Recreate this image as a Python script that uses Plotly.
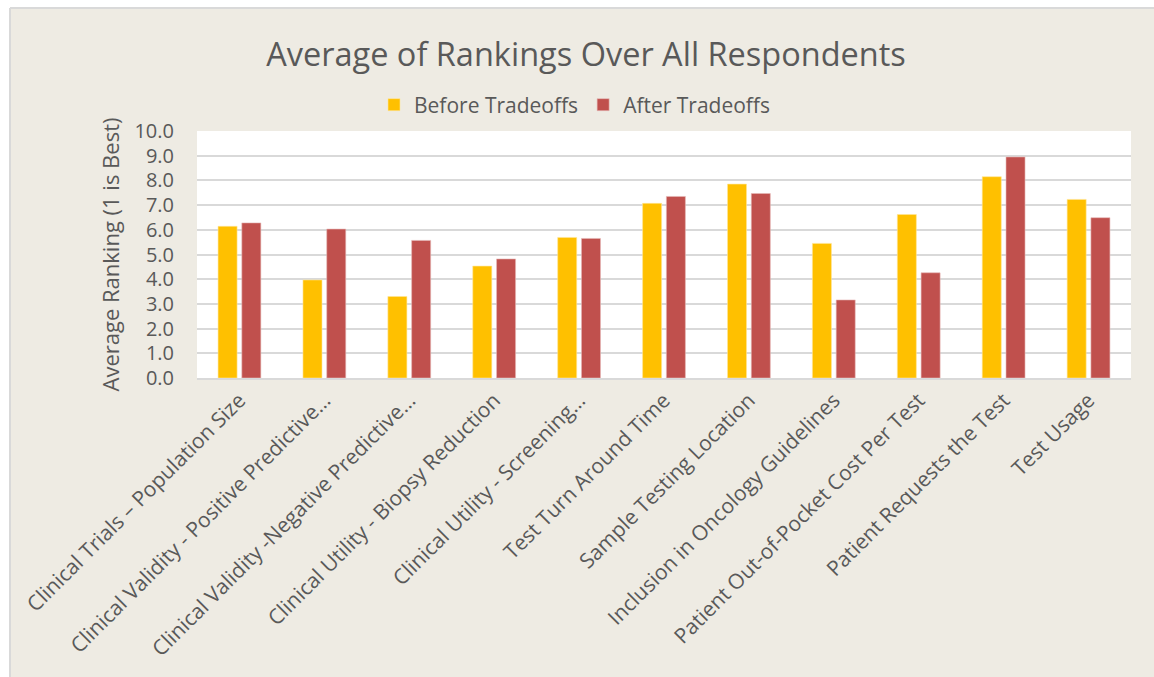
import plotly.graph_objects as go

categories = [
    "Clinical Trials – Population Size",
    "Clinical Validity - Positive Predictive…",
    "Clinical Validity -Negative Predictive…",
    "Clinical Utility - Biopsy Reduction",
    "Clinical Utility - Screening…",
    "Test Turn Around Time",
    "Sample Testing Location",
    "Inclusion in Oncology Guidelines",
    "Patient Out-of-Pocket Cost Per Test",
    "Patient Requests the Test",
    "Test Usage",
]
before = [6.14, 3.97, 3.30, 4.53, 5.69, 7.07, 7.85, 5.45, 6.62, 8.15, 7.23]
after = [6.28, 6.03, 5.57, 4.82, 5.65, 7.35, 7.47, 3.16, 4.26, 8.95, 6.49]
y_ticks = [0, 1, 2, 3, 4, 5, 6, 7, 8, 9, 10]

FONT = "Open Sans"
TXT = "#595959"
BG = "#EEEBE3"

fig = go.Figure()
fig.add_trace(go.Bar(x=categories, y=before, name="Before Tradeoffs",
                     marker=dict(color="#FFC000", line=dict(color="#FFE699", width=0.6))))
fig.add_trace(go.Bar(x=categories, y=after, name="After Tradeoffs",
                     marker=dict(color="#C0504D", line=dict(color="#E6B8B7", width=0.6))))

W, H = 1154, 677
L = 197
T = 131
bottom = 378
right = 1131
R = W - right
B = H - bottom
pw, ph = W - L - R, H - T - B


def px_x(x):
    return (x - L) / pw


def px_y(y):
    return (bottom - y) / ph


bx, by = 10, 8  # chart-area border position in pixels
shapes = [
    dict(type="rect", xref="paper", yref="paper", layer="below",
         x0=px_x(-5), x1=px_x(bx), y0=px_y(H + 5), y1=px_y(-5),
         fillcolor="white", line=dict(width=0)),
    dict(type="rect", xref="paper", yref="paper", layer="below",
         x0=px_x(-5), x1=px_x(W + 5), y0=px_y(by), y1=px_y(-5),
         fillcolor="white", line=dict(width=0)),
    dict(type="line", xref="paper", yref="paper", layer="below",
         x0=px_x(bx), x1=px_x(bx), y0=px_y(H + 5), y1=px_y(by),
         line=dict(color="#D9D9D9", width=2)),
    dict(type="line", xref="paper", yref="paper", layer="below",
         x0=px_x(bx), x1=px_x(W + 5), y0=px_y(by), y1=px_y(by),
         line=dict(color="#D9D9D9", width=2)),
]

fig.update_layout(
    width=W, height=H,
    margin=dict(l=L, r=R, t=T, b=B, autoexpand=False),
    paper_bgcolor=BG,
    plot_bgcolor="white",
    barmode="group",
    bargap=0.44,
    bargroupgap=0.2,
    font=dict(family=FONT, color=TXT, size=21),
    title=dict(text="Average of Rankings Over All Respondents",
               x=586 / W, xanchor="center", y=1 - 55 / H, yanchor="middle",
               font=dict(size=32.5, color=TXT, family=FONT)),
    legend=dict(orientation="h", x=px_x(575), xanchor="center",
                y=px_y(105), yanchor="middle",
                font=dict(size=21, color=TXT), bgcolor="rgba(0,0,0,0)",
                itemwidth=30, traceorder="normal"),
    showlegend=True,
    shapes=shapes,
)

fig.update_xaxes(tickangle=-45, tickfont=dict(size=21, color=TXT),
                 showline=True, linecolor="#D9D9D9", linewidth=1.5,
                 ticks="", showgrid=False)
fig.update_yaxes(range=[0, 10], tickvals=y_ticks, tickformat=".1f",
                 tickfont=dict(size=20, color=TXT),
                 showgrid=True, gridcolor="#D9D9D9", gridwidth=1.5,
                 zeroline=False, ticks="", ticklabelstandoff=22,
                 title=dict(text="Average Ranking (1 is Best)",
                            font=dict(size=22, color=TXT), standoff=8))

fig.write_html(
    "out.html",
    config={"displayModeBar": False},
    post_script="document.body.style.margin='0';document.body.style.overflow='hidden';",
)
